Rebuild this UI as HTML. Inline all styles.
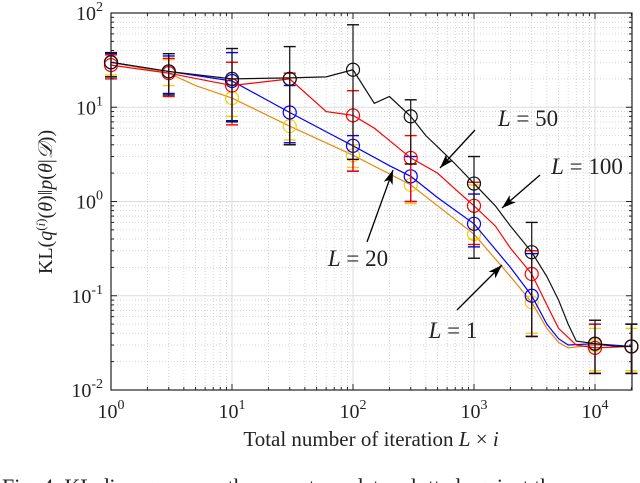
<!DOCTYPE html>
<html><head><meta charset="utf-8"><style>
body{margin:0;background:#fff;width:640px;height:483px;overflow:hidden}
svg{position:absolute;left:0;top:0}
text{font-family:"Liberation Serif",serif;fill:#222}
</style></head><body>
<svg id="chart" width="640" height="483"></svg>
<script>
const markerX=[1,3,10,30,100,300,1000,3000,10000,20000];
const blackLineX=[1,3,10,30,60,100,150,200,300,400,500,700,1000,1500,2000,3000,4000,5000,6000,7000,10000,15000,20000];
const blackLineY=[30,24,20,20.5,21,25,11,13,8,5,3.8,2.5,1.55,0.9,0.55,0.29,0.16,0.09,0.05,0.033,0.031,0.029,0.029];
const redLineX=[1,3,10,30,60,100,150,300,500,700,1000,1500,2000,3000,4000,5000,7000,10000,20000];
const redLineY=[28,23,17,20,9,8.2,6,2.9,2.0,1.35,0.9,0.55,0.32,0.17,0.08,0.045,0.03,0.028,0.029];
const blueLineX=[1,3,10,30,60,100,200,300,500,1000,2000,3000,4000,5000,6000,10000,20000];
const blueLineY=[30,24,19,8.8,5.5,3.9,2.4,1.85,1.1,0.58,0.2,0.1,0.05,0.035,0.03,0.031,0.029];
const orangeLineX=[1,3,5,10,30,100,300,1000,2000,3000,4000,5000,6000,10000,20000];
const orangeLineY=[30,23,17,12.5,6.3,3.1,1.5,0.45,0.16,0.085,0.045,0.032,0.028,0.03,0.029];
const blackMarkY=[30,24,20,20,25,8,1.55,0.29,0.031,0.029];
const blackLo=[21,13.5,7,4,2.8,2.5,0.25,0.037,0.015,0.015];
const blackHi=[38,37,42,44,75,12,3,0.6,0.055,0.05];
const redMarkY=[28,23,17,20,8.2,2.9,0.9,0.17,0.028,0.029];
const redLo=[20,13,6.5,4,2.1,1.0,0.35,0.037,0.015,0.015];
const redHi=[36,33,30,23,15,5,1.6,0.3,0.05,0.05];
const blueMarkY=[30,24,19,8.8,3.9,1.85,0.58,0.1,0.031,0.029];
const blueLo=[21,14,7.2,4.2,2.1,1.0,0.33,0.037,0.015,0.015];
const blueHi=[37,35,38,17,5,3,1.2,0.28,0.05,0.05];
const orangeMarkY=[30,23,12.5,6.3,3.1,1.5,0.45,0.085,0.03,0.029];
const orangeLo=[22,17,8,4.5,2.3,0.95,0.4,0.04,0.016,0.016];
const orangeHi=[38,32,30,23,4,2.5,1.5,0.3,0.045,0.045];
const xTickVals=[1,10,100,1000,10000];
const xTickExp=['0','1','2','3','4'];
const yTickVals=[100,10,1,0.1,0.01];
const yTickExp=['2','1','0','-1','-2'];

const L=111,R=632,T=13,B=390;
const xs=v=>L+Math.log10(v)*121;
const ys=v=>T+(2-Math.log10(v))*94.25;
const svg=document.getElementById('chart');
const NS='http://www.w3.org/2000/svg';
function mk(tag,attrs,parent){const e=document.createElementNS(NS,tag);for(const k in attrs)e.setAttribute(k,attrs[k]);(parent||svg).appendChild(e);return e;}

const grid=mk('g',{});


for(let d=0;d<5;d++)for(let m=1;m<10;m++){const v=Math.pow(10,d)*m;if(v>20000)break;const x=xs(v);
 if(m===1){if(d>0)mk('line',{x1:x,x2:x,y1:T,y2:B,stroke:'#ddd','stroke-width':1},grid);}
 else mk('line',{x1:x,x2:x,y1:T,y2:B,stroke:'#ccc','stroke-width':0.8,'stroke-dasharray':'1,2'},grid);}
for(let d=-2;d<2;d++)for(let m=1;m<10;m++){const v=Math.pow(10,d)*m;const y=ys(v);
 if(m===1){if(d>-2)mk('line',{x1:L,x2:R,y1:y,y2:y,stroke:'#ddd','stroke-width':1},grid);}
 else mk('line',{x1:L,x2:R,y1:y,y2:y,stroke:'#ccc','stroke-width':0.8,'stroke-dasharray':'1,2'},grid);}

function series(name,lx,ly,my,lo,hi,lineCol,markCol,barCol){
 const g=mk('g',{});
 
 
 mk('polyline',{points:lx.map((x,i)=>xs(x)+','+ys(ly[i])).join(' '),fill:'none',stroke:lineCol,'stroke-width':1.2},g);
 markerX.forEach((x,i)=>{const cx=xs(x);
  mk('line',{x1:cx,x2:cx,y1:ys(hi[i]),y2:ys(lo[i]),stroke:barCol,'stroke-width':1.2},g);
  mk('line',{x1:cx-6,x2:cx+6,y1:ys(hi[i]),y2:ys(hi[i]),stroke:barCol,'stroke-width':1.4},g);
  mk('line',{x1:cx-6,x2:cx+6,y1:ys(lo[i]),y2:ys(lo[i]),stroke:barCol,'stroke-width':1.4},g);
  mk('circle',{cx:cx,cy:ys(my[i]),r:6.5,fill:'none',stroke:markCol,'stroke-width':1.2},g);});
}
series('series-l1',orangeLineX,orangeLineY,orangeMarkY,orangeLo,orangeHi,'#e8890c','#f2d000','#f2d000');
series('series-l20',blueLineX,blueLineY,blueMarkY,blueLo,blueHi,'#0000ff','#0000ff','#0000ff');
series('series-l50',redLineX,redLineY,redMarkY,redLo,redHi,'#ff0000','#ff0000','#ff0000');
series('series-l100',blackLineX,blackLineY,blackMarkY,blackLo,blackHi,'#111','#111','#111');

const ax=mk('rect',{x:L,y:T,width:R-L,height:B-T,fill:'none',stroke:'#222','stroke-width':1.2});


for(let d=0;d<5;d++)for(let m=1;m<10;m++){const v=Math.pow(10,d)*m;if(v>20000)break;const x=xs(v);const len=m===1?6:3;
 mk('line',{x1:x,x2:x,y1:B,y2:B-len,stroke:'#222'});mk('line',{x1:x,x2:x,y1:T,y2:T+len,stroke:'#222'});}
for(let d=-2;d<2;d++)for(let m=1;m<10;m++){const y=ys(Math.pow(10,d)*m);const len=m===1?6:3;
 mk('line',{x1:L,x2:L+len,y1:y,y2:y,stroke:'#222'});mk('line',{x1:R,x2:R-len,y1:y,y2:y,stroke:'#222'});}

xTickVals.forEach((v,i)=>{const t=mk('text',{x:xs(v),y:418,'text-anchor':'middle','font-size':20});
 
 
 t.innerHTML='10<tspan dy="-9" font-size="14">'+xTickExp[i]+'</tspan>';});
yTickVals.forEach((v,i)=>{const t=mk('text',{x:103,y:ys(v)+7,'text-anchor':'end','font-size':20});
 
 
 t.innerHTML='10<tspan dy="-9" font-size="14">'+yTickExp[i]+'</tspan>';});

const xl=mk('text',{x:371,y:446,'text-anchor':'middle','font-size':21});


xl.innerHTML='Total number of iteration <tspan font-style="italic">L</tspan> × <tspan font-style="italic">i</tspan>';
const yl=mk('text',{x:0,y:0,'text-anchor':'middle','font-size':20,transform:'translate(52,202) rotate(-90)'});


yl.innerHTML='KL(<tspan font-style="italic">q</tspan><tspan dy="-7" font-size="13">(<tspan font-style="italic">i</tspan>)</tspan><tspan dy="7">(<tspan font-style="italic">θ</tspan>)‖<tspan font-style="italic">p</tspan>(<tspan font-style="italic">θ</tspan>|<tspan font-style="italic">𝒟</tspan>))</tspan>';

function ann(name,label,tx,ty,x1,y1,x2,y2){
 const g=mk('g',{});
 
 
 const t=mk('text',{x:tx,y:ty,'text-anchor':'middle','font-size':23},g);
 t.innerHTML='<tspan font-style="italic">L</tspan> = '+label;
 mk('line',{x1:x1,y1:y1,x2:x2,y2:y2,stroke:'#000','stroke-width':1.3},g);
 const a=Math.atan2(y2-y1,x2-x1),l=15,w=0.32;
 mk('polygon',{points:`${x2},${y2} ${x2-l*Math.cos(a-w)},${y2-l*Math.sin(a-w)} ${x2-l*0.7*Math.cos(a)},${y2-l*0.7*Math.sin(a)} ${x2-l*Math.cos(a+w)},${y2-l*Math.sin(a+w)}`,fill:'#000'},g);
}
ann('label-l50','50',528,126,475,130,440,168);
ann('label-l100','100',587,174,540,175,502,208);
ann('label-l20','20',358,266,367,242,393,170);
ann('label-l1','1',453,338,457,310,502,265);

const cap=mk('text',{x:2,y:494,'font-size':22});


cap.textContent='Fig. 4.  KL divergence on the covertype data, plotted against the';
</script>
</body></html>
